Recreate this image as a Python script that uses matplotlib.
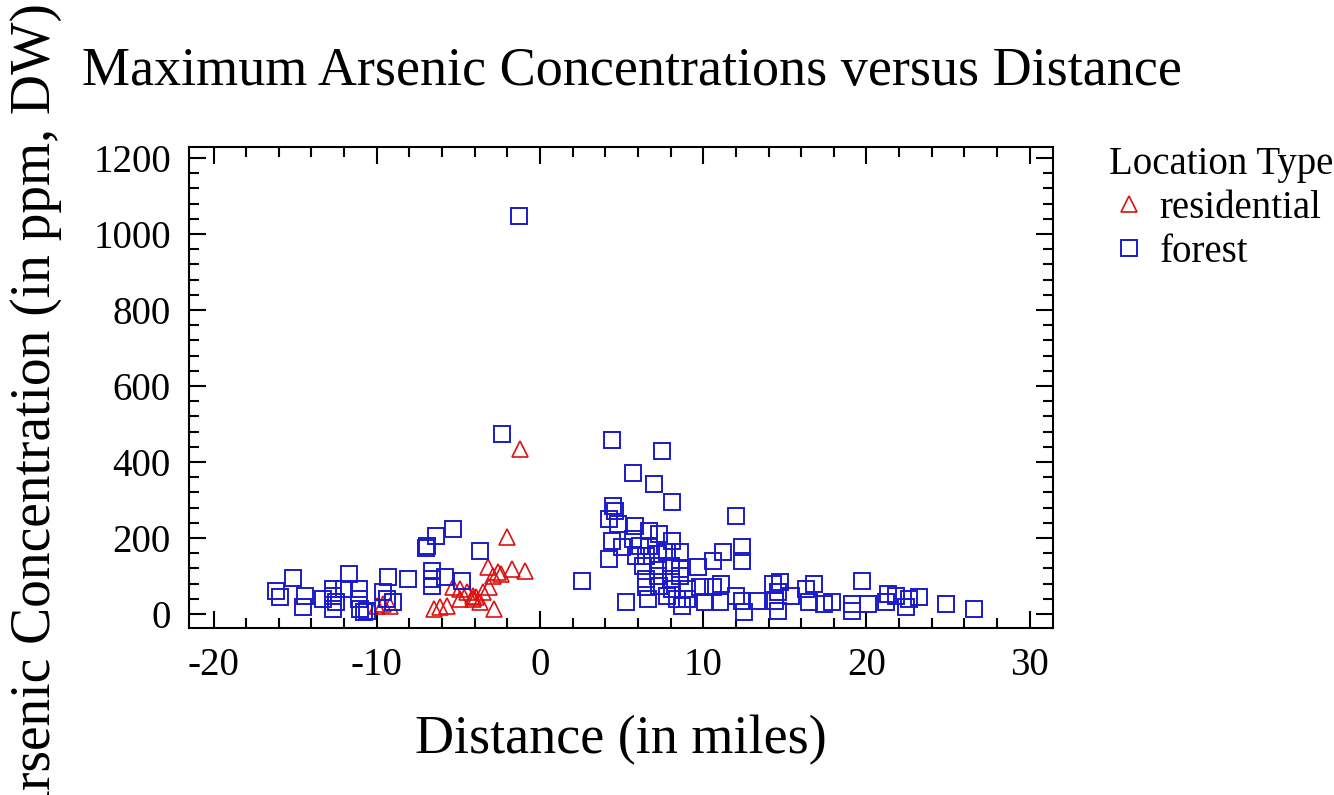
import matplotlib
matplotlib.use("Agg")
import matplotlib.pyplot as plt
import numpy as np
from matplotlib.ticker import MultipleLocator

plt.rcParams['font.family'] = ['Liberation Serif', 'DejaVu Serif']
plt.rcParams['axes.unicode_minus'] = False

# residential sites: distance (miles), max arsenic (ppm)
res_x = [-2.0, -3.2, -2.6, -2.4, -1.7, -0.9, -2.9, -5.3, -4.9, -4.5, -4.1, -3.9,
         -3.5, -3.1, -6.5, -6.1, -5.7, -4.9, -3.7, -2.8, -10.0, -9.6, -9.2, -4.1, -1.2]
res_y = [202, 123, 110, 105, 118, 113, 100, 70, 66, 58, 47, 45,
         58, 70, 13, 18, 21, 39, 31, 13, 21, 26, 21, 39, 433]

# forest sites
for_x = [-5.3, -6.4, -6.9, -7.0, -3.7, -15.1, -11.7, -9.3, -8.1, -6.6, -6.6, -6.6,
         -5.8, -4.8, -16.2, -15.9, -14.4, -14.5, -13.3, -12.7, -12.5, -12.7, -11.1, -11.1,
         -11.0, -10.8, -10.6, -9.6, -9.0, -9.4, -12.0, -12.7, -1.3, -2.3,
         2.6, 4.4, 7.5, 5.7, 7.0, 8.1, 12.0, 4.5, 4.6, 4.2, 4.8, 5.8,
         4.4, 4.2, 5.0, 5.7, 6.7, 7.3, 8.1, 6.1, 6.7, 5.9, 6.5, 7.2,
         7.8, 8.6, 6.3, 7.2, 8.0, 8.6, 9.7, 10.6, 11.2, 12.4, 12.4, 6.5,
         7.2, 8.0, 8.6, 6.5, 7.3, 8.1, 9.0, 6.6, 7.8, 8.4, 9.0, 8.7,
         5.3, 9.8, 10.6, 11.1, 10.1, 11.0, 12.0, 12.4, 12.5, 13.3, 14.3, 14.7,
         14.6, 14.4, 14.6, 15.4, 16.3, 16.8, 16.5, 17.4, 17.9, 19.1, 19.1, 19.7,
         20.1, 21.3, 21.8, 21.2, 22.4, 22.6, 23.2, 24.9, 26.6]
for_y = [223, 205, 179, 175, 166, 94, 105, 97, 92, 113, 92, 74,
         97, 87, 60, 45, 47, 18, 39, 47, 31, 13, 66, 39,
         13, 5, 8, 58, 31, 39, 66, 66, 1048, 473,
         87, 459, 428, 372, 341, 294, 258, 284, 271, 250, 236, 231,
         192, 144, 176, 197, 218, 210, 192, 179, 179, 152, 152, 157,
         163, 163, 126, 126, 126, 118, 123, 139, 163, 176, 139, 92,
         100, 92, 100, 71, 74, 66, 66, 39, 47, 39, 39, 21,
         31, 71, 71, 79, 31, 31, 47, 34, 5, 34, 79, 84,
         58, 34, 8, 47, 66, 79, 31, 26, 31, 26, 8, 87,
         26, 53, 47, 31, 18, 39, 45, 26, 13]

fig = plt.figure(figsize=(13.34, 7.95), dpi=100)
ax = fig.add_axes([0.1417, 0.21, 0.6473, 0.605])

ax.plot(res_x, res_y, '^', ms=11, mfc='none', mec='#dd1111', mew=1.2, label='residential')
ax.plot(for_x, for_y, 's', ms=11, mfc='none', mec='#1a1acc', mew=1.4, label='forest')

ax.set_xlim(-21.5, 31.4)
ax.set_ylim(-37, 1229)
ax.xaxis.set_major_locator(MultipleLocator(10))
ax.xaxis.set_minor_locator(MultipleLocator(2))
ax.yaxis.set_major_locator(MultipleLocator(200))
ax.yaxis.set_minor_locator(MultipleLocator(40))
ax.tick_params(which='both', direction='in', top=True, right=True, width=1.5, labelsize=28)
ax.tick_params(axis='y', pad=13)
ax.tick_params(axis='x', pad=14)
ax.tick_params(which='major', length=12)
ax.tick_params(which='minor', length=7)
for s in ax.spines.values():
    s.set_linewidth(1.5)

ax.set_xlabel('Distance (in miles)', fontsize=39, labelpad=22)
fig.text(82 / 1334, 1 - 85 / 795, 'Maximum Arsenic Concentrations versus Distance',
         fontsize=39, ha='left', va='baseline')
# the reference cuts this label off at the bottom edge
fig.text(36 / 1334, 1 - 3 / 795, 'Arsenic Concentration (in ppm, DW)',
         fontsize=40, rotation=90, ha='center', va='top')

leg = ax.legend(title='Location Type', loc='upper left', bbox_to_anchor=(1.025, 1.075),
                frameon=False, fontsize=28, title_fontsize=28, handletextpad=0.3,
                handlelength=1.0, labelspacing=0.18, alignment='left', markerscale=1.0)

fig.savefig('out.png', dpi=100)
